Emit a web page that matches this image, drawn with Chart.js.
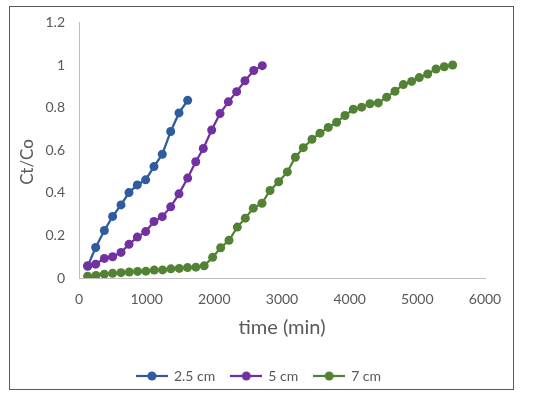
<!DOCTYPE html>
<html>
<head>
<meta charset="utf-8">
<script src="https://cdn.jsdelivr.net/npm/chart.js@4"></script>
<style>
  html, body { margin: 0; padding: 0; background: #fff; }
  #wrap { position: relative; width: 533px; height: 395px; }
  #frame {
    position: absolute; left: 9px; top: 6px; width: 505px; height: 384px;
    box-sizing: border-box; border: 1px solid #595959; pointer-events: none;
  }
</style>
</head>
<body>
<div id="wrap">
  <canvas id="chart" width="533" height="395"></canvas>
  <div id="frame"></div>
</div>
<script>
// series labels
const seriesNames = ['2.5 cm', '5 cm', '7 cm'];

// 2.5 cm bed
const time25 = [128, 246, 375, 497, 621, 739, 862, 985, 1108, 1231, 1355, 1478, 1606];
const ct25 = [0.055, 0.143, 0.223, 0.289, 0.343, 0.401, 0.437, 0.461, 0.523, 0.581, 0.688, 0.775, 0.834];

// 5 cm bed
const time5 = [128, 246, 375, 497, 621, 739, 862, 985, 1108, 1231, 1355, 1478, 1606, 1725, 1837, 1961, 2084, 2207, 2330, 2453, 2582, 2709];
const ct5 = [0.058, 0.065, 0.092, 0.100, 0.120, 0.158, 0.192, 0.218, 0.265, 0.288, 0.334, 0.395, 0.469, 0.546, 0.608, 0.695, 0.772, 0.827, 0.875, 0.926, 0.974, 0.997];

// 7 cm bed
const time7 = [128, 251, 374, 497, 620, 743, 866, 989, 1112, 1235, 1358, 1481, 1604, 1727, 1850, 1975, 2094, 2217, 2340, 2458, 2576, 2704, 2823, 2951, 3079, 3197, 3315, 3443, 3561, 3684, 3808, 3931, 4054, 4177, 4300, 4423, 4547, 4670, 4793, 4916, 5029, 5153, 5276, 5398, 5522];
const ct7 = [0.008, 0.012, 0.018, 0.022, 0.025, 0.028, 0.031, 0.032, 0.037, 0.038, 0.043, 0.045, 0.049, 0.051, 0.057, 0.097, 0.142, 0.177, 0.239, 0.281, 0.328, 0.351, 0.411, 0.452, 0.498, 0.567, 0.612, 0.651, 0.680, 0.707, 0.731, 0.763, 0.792, 0.802, 0.818, 0.822, 0.849, 0.877, 0.908, 0.923, 0.941, 0.958, 0.981, 0.992, 1.000];

// tick labels and titles
const xTickLabels = ['0', '1000', '2000', '3000', '4000', '5000', '6000'];
const yTickLabels = ['0', '0.2', '0.4', '0.6', '0.8', '1', '1.2'];
const xTitle = 'time (min)';
const yTitle = 'Ct/Co';

const colors = ['#2E5C9E', '#7231A1', '#538234'];
const textColor = '#595959';
const fontFamily = 'Lato, "Open Sans", sans-serif';

function toPoints(xs, ys) {
    return xs.map((x, i) => ({ x: x, y: ys[i] }));
}

// small line + dot image for the legend
function legendMarker(color) {
    const c = document.createElement('canvas');
    c.width = 32;
    c.height = 10;
    const g = c.getContext('2d');
    g.strokeStyle = color;
    g.lineWidth = 2.25;
    g.beginPath();
    g.moveTo(0, 5);
    g.lineTo(32, 5);
    g.stroke();
    g.fillStyle = color;
    g.beginPath();
    g.arc(16, 5, 4.5, 0, Math.PI * 2);
    g.fill();
    return c;
}

// y axis title sits a bit below the middle of the axis, as in the original
const yTitlePlugin = {
    id: 'yTitle',
    afterDraw(chart) {
        const ctx = chart.ctx;
        ctx.save();
        ctx.translate(28, 162);
        ctx.rotate(-Math.PI / 2);
        ctx.fillStyle = textColor;
        ctx.font = '17px ' + fontFamily;
        ctx.textAlign = 'center';
        ctx.textBaseline = 'middle';
        ctx.fillText(yTitle, 0, 0);
        ctx.restore();
    }
};

const allData = [toPoints(time25, ct25), toPoints(time5, ct5), toPoints(time7, ct7)];

const datasets = allData.map((pts, i) => ({
    label: seriesNames[i],
    data: pts,
    borderColor: colors[i],
    backgroundColor: colors[i],
    pointBackgroundColor: colors[i],
    pointBorderColor: colors[i],
    pointBorderWidth: 0,
    pointRadius: 4.5,
    borderWidth: 2.25,
    tension: 0,
    order: 2 - i // later series drawn on top
}));

new Chart(document.getElementById('chart').getContext('2d'), {
    type: 'line',
    data: { datasets: datasets },
    plugins: [yTitlePlugin],
    options: {
        responsive: false,
        animation: false,
        layout: { padding: { left: 0, right: 15, top: 20, bottom: 2 } },
        plugins: {
            tooltip: { enabled: false },
            legend: {
                display: true,
                position: 'bottom',
                labels: {
                    usePointStyle: true,
                    pointStyleWidth: 30,
                    padding: 16,
                    color: textColor,
                    font: { family: fontFamily, size: 14 },
                    generateLabels: function (chart) {
                        return chart.data.datasets.map((ds, i) => ({
                            text: ds.label,
                            fillStyle: colors[i],
                            strokeStyle: colors[i],
                            lineWidth: 0,
                            pointStyle: legendMarker(colors[i]),
                            fontColor: textColor,
                            hidden: false,
                            datasetIndex: i
                        }));
                    }
                }
            }
        },
        scales: {
            x: {
                type: 'linear',
                min: 0,
                max: 6000,
                afterFit: function (scale) { scale.height = 75; },
                grid: { display: false, drawTicks: false },
                border: { display: true, color: '#BFBFBF', width: 1 },
                ticks: {
                    stepSize: 1000,
                    padding: 13,
                    color: textColor,
                    font: { family: fontFamily, size: 14 },
                    callback: function (value, index) { return xTickLabels[index]; }
                },
                title: {
                    display: true,
                    text: xTitle,
                    color: textColor,
                    font: { family: fontFamily, size: 20 },
                    padding: { top: 0, bottom: 13 }
                }
            },
            y: {
                min: 0,
                max: 1.2,
                afterFit: function (scale) { scale.width = 79; },
                grid: { display: false, drawTicks: false },
                border: { display: true, color: '#BFBFBF', width: 1 },
                ticks: {
                    stepSize: 0.2,
                    padding: 14,
                    color: textColor,
                    font: { family: fontFamily, size: 14 },
                    callback: function (value, index) { return yTickLabels[index]; }
                }
            },
            // empty spacer on the right so the legend centres like the original
            spacer: {
                type: 'linear',
                position: 'right',
                afterFit: function (scale) { scale.width = 33; },
                grid: { display: false, drawTicks: false },
                border: { display: false },
                ticks: { display: false }
            }
        }
    }
});
</script>
</body>
</html>
